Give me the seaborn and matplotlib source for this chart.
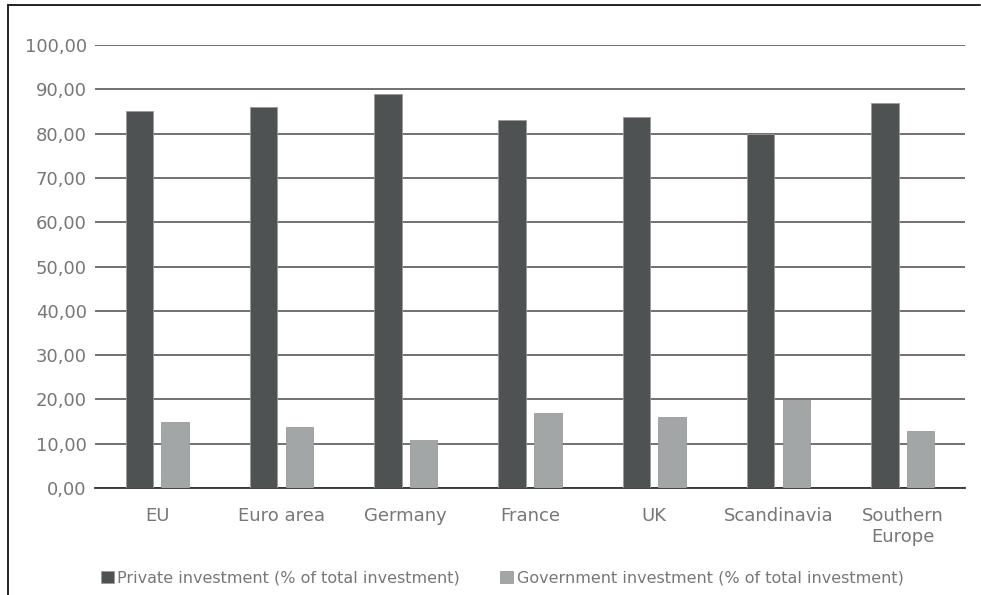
import matplotlib
matplotlib.use("Agg")
import matplotlib.pyplot as plt
from matplotlib.lines import Line2D
import seaborn as sns
import pandas as pd

regions = ["EU", "Euro area", "Germany", "France", "UK", "Scandinavia", "Southern\nEurope"]
private = [85.0, 86.0, 89.0, 83.0, 83.7, 80.0, 86.9]
government = [15.0, 13.8, 10.8, 16.9, 16.1, 19.9, 12.9]
series_names = ["Private investment (% of total investment)",
                "Government investment (% of total investment)"]
y_ticks = [0, 10, 20, 30, 40, 50, 60, 70, 80, 90, 100]

df = pd.DataFrame({
    "region": regions * 2,
    "value": private + government,
    "series": [series_names[0]] * len(regions) + [series_names[1]] * len(regions),
})

sns.set_theme(style="white")
plt.rcParams["font.family"] = ["DejaVu Sans"]

fig = plt.figure(figsize=(9.81, 5.95), dpi=100)
ax = fig.add_axes([95 / 981, (595 - 488) / 595, 870 / 981, (488 - 45) / 595])

palette = {series_names[0]: "#4f5252", series_names[1]: "#a3a6a7"}
sns.barplot(data=df, x="region", y="value", hue="series", palette=palette,
            width=0.573, gap=0.23, ax=ax, saturation=1, legend=True,
            edgecolor="#9a9a9a", linewidth=0.6, zorder=3)

ax.set_ylim(0, 100)
ax.set_xlim(-0.5, len(regions) - 0.5)
ax.set_yticks(y_ticks)
ax.set_yticklabels([f"{v:.2f}".replace(".", ",") for v in y_ticks])
ax.yaxis.grid(True, color="#666666", linewidth=1.3, zorder=0)
ax.set_axisbelow(True)
ax.set_xlabel("")
ax.set_ylabel("")
for side in ["top", "right", "left"]:
    ax.spines[side].set_visible(False)
ax.spines["bottom"].set_color("#333333")
ax.spines["bottom"].set_linewidth(1.3)
ax.tick_params(axis="y", length=0, pad=6, labelsize=13, labelcolor="#777777")
ax.tick_params(axis="x", length=0, pad=14, labelsize=13, labelcolor="#777777")
for lbl in ax.get_xticklabels():
    lbl.set_multialignment("center")

handles, labels = ax.get_legend_handles_labels()
ax.legend_.remove()
fig.legend(handles, labels, loc="center", bbox_to_anchor=(0.512, 1 - 578 / 595),
           ncol=2, frameon=False, fontsize=11.5, labelcolor="#777777",
           handlelength=0.8, handleheight=0.8, handletextpad=0.25,
           columnspacing=2.5)

# frame around the figure (top and left edges)
fig.add_artist(Line2D([8 / 981, 0.999], [1 - 5 / 595, 1 - 5 / 595],
                      transform=fig.transFigure, color="#222222", linewidth=1.4))
fig.add_artist(Line2D([8 / 981, 8 / 981], [0.0, 1 - 5 / 595],
                      transform=fig.transFigure, color="#222222", linewidth=1.4))

fig.savefig("out.png", dpi=100)
